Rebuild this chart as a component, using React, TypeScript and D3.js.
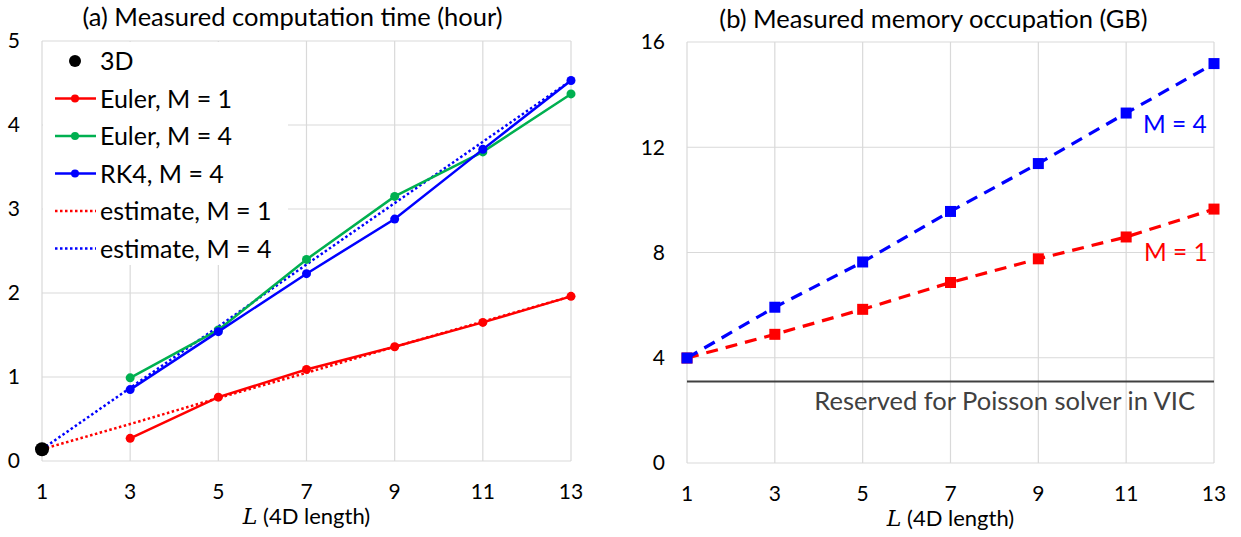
import { useEffect, useRef } from 'react';
import * as d3 from 'd3';

// 4D length L
const lengths = [1, 3, 5, 7, 9, 11, 13];
const measuredL = [3, 5, 7, 9, 11, 13];

// (a) computation time, hours
const time3D = 0.14;
const eulerM1 = [0.27, 0.76, 1.09, 1.36, 1.65, 1.96];
const eulerM4 = [0.99, 1.56, 2.4, 3.15, 3.68, 4.37];
const rk4M4 = [0.85, 1.54, 2.23, 2.88, 3.71, 4.53];
const estimateM1 = [0.14, 0.44, 0.75, 1.05, 1.36, 1.66, 1.96];
const estimateM4 = [0.14, 0.87, 1.6, 2.34, 3.07, 3.8, 4.53];
const timeTicks = [0, 1, 2, 3, 4, 5];

// (b) memory occupation, GB
const memM4 = [3.99, 5.92, 7.64, 9.56, 11.38, 13.3, 15.18];
const memM1 = [3.99, 4.89, 5.84, 6.86, 7.76, 8.59, 9.65];
const poissonReserved = 3.1;
const memTicks = [0, 4, 8, 12, 16];

const RED = '#ff0000';
const GREEN = '#00b050';
const BLUE = '#0000ff';
const GRID = '#d9d9d9';
const FONT = 'Lato, "Open Sans", sans-serif';

type Pt = [number, number];

export default function App() {
  const ref = useRef<SVGSVGElement>(null);

  useEffect(() => {
    if (!ref.current) return;
    document.body.style.margin = '0';
    const svg = d3.select(ref.current);
    svg.selectAll('*').remove();

    svg.append('rect').attr('width', 1241).attr('height', 537).attr('fill', '#fff');

    const drawFrame = (
      g: d3.Selection<SVGGElement, unknown, null, undefined>,
      x: d3.ScaleLinear<number, number>,
      y: d3.ScaleLinear<number, number>,
      yTicks: number[],
      title: string,
      titleY: number
    ) => {
      const [x0, x1] = x.range();
      const [y0, y1] = y.range();

      // grid
      g.append('g')
        .selectAll('line')
        .data(yTicks)
        .enter().append('line')
        .attr('x1', x0).attr('x2', x1)
        .attr('y1', d => y(d)).attr('y2', d => y(d))
        .attr('stroke', GRID).attr('stroke-width', 1.2);
      g.append('g')
        .selectAll('line')
        .data(lengths)
        .enter().append('line')
        .attr('x1', d => x(d)).attr('x2', d => x(d))
        .attr('y1', y0).attr('y2', y1)
        .attr('stroke', GRID).attr('stroke-width', 1.2);

      // tick labels
      g.append('g')
        .selectAll('text')
        .data(yTicks)
        .enter().append('text')
        .attr('x', x0 - 22)
        .attr('y', d => y(d))
        .attr('dy', '0.35em')
        .attr('text-anchor', 'end')
        .attr('font-size', 21)
        .attr('font-family', FONT)
        .attr('fill', '#000')
        .text(d => d);
      g.append('g')
        .selectAll('text')
        .data(lengths)
        .enter().append('text')
        .attr('x', d => x(d))
        .attr('y', y0 + 38)
        .attr('text-anchor', 'middle')
        .attr('font-size', 21)
        .attr('font-family', FONT)
        .attr('fill', '#000')
        .text(d => d);

      // axis title
      const xt = g.append('text')
        .attr('x', (x0 + x1) / 2)
        .attr('y', y0 + 63)
        .attr('text-anchor', 'middle')
        .attr('font-size', 22)
        .attr('font-family', FONT)
        .attr('fill', '#000');
      xt.append('tspan')
        .attr('font-family', '"DejaVu Serif", serif')
        .attr('font-style', 'italic')
        .text('L');
      xt.append('tspan').text(' (4D length)');

      g.append('text')
        .attr('x', (x0 + x1) / 2 + (x0 < 300 ? -14 : -17))
        .attr('y', titleY)
        .attr('text-anchor', 'middle')
        .attr('font-size', 25.5)
        .attr('font-family', FONT)
        .attr('fill', '#000')
        .text(title);
    };

    // ---------- (a) ----------
    const xa = d3.scaleLinear().domain([1, 13]).range([42, 571]);
    const ya = d3.scaleLinear().domain([0, 5]).range([461, 41]);
    const ga = svg.append('g');
    drawFrame(ga, xa, ya, timeTicks, '(a) Measured computation time (hour)', 26);

    const line = d3.line<Pt>().x(d => xa(d[0])).y(d => ya(d[1]));

    // legend background hides grid behind it
    ga.append('rect')
      .attr('x', 43).attr('y', 42).attr('width', 245).attr('height', 223)
      .attr('fill', '#fff');

    const solid = [
      { vals: eulerM1, color: RED },
      { vals: eulerM4, color: GREEN },
      { vals: rk4M4, color: BLUE },
    ];
    const dotted = [
      { vals: estimateM1, color: RED },
      { vals: estimateM4, color: BLUE },
    ];

    dotted.forEach(s => {
      const pts: Pt[] = lengths.map((l, i) => [l, s.vals[i]]);
      ga.append('path')
        .attr('d', line(pts))
        .attr('fill', 'none')
        .attr('stroke', s.color)
        .attr('stroke-width', 2.5)
        .attr('stroke-dasharray', '2.5,2.5');
    });

    solid.forEach(s => {
      const pts: Pt[] = measuredL.map((l, i) => [l, s.vals[i]]);
      ga.append('path')
        .attr('d', line(pts))
        .attr('fill', 'none')
        .attr('stroke', s.color)
        .attr('stroke-width', 2.5);
      ga.selectAll(null)
        .data(pts)
        .enter().append('circle')
        .attr('cx', d => xa(d[0]))
        .attr('cy', d => ya(d[1]))
        .attr('r', 4.5)
        .attr('fill', s.color);
    });

    ga.append('circle')
      .attr('cx', xa(1)).attr('cy', ya(time3D)).attr('r', 7).attr('fill', '#000');

    // legend
    const legendItems = [
      { label: '3D', color: '#000', kind: 'dot' },
      { label: 'Euler, M = 1', color: RED, kind: 'line' },
      { label: 'Euler, M = 4', color: GREEN, kind: 'line' },
      { label: 'RK4, M = 4', color: BLUE, kind: 'line' },
      { label: 'estimate, M = 1', color: RED, kind: 'dotted' },
      { label: 'estimate, M = 4', color: BLUE, kind: 'dotted' },
    ];
    legendItems.forEach((it, i) => {
      const cy = 61 + i * 37.5;
      if (it.kind === 'dot') {
        ga.append('circle').attr('cx', 75).attr('cy', cy).attr('r', 6).attr('fill', it.color);
      } else {
        ga.append('line')
          .attr('x1', 55).attr('x2', 96).attr('y1', cy).attr('y2', cy)
          .attr('stroke', it.color).attr('stroke-width', 2.5)
          .attr('stroke-dasharray', it.kind === 'dotted' ? '2.5,2.5' : null);
        if (it.kind === 'line') {
          ga.append('circle').attr('cx', 75).attr('cy', cy).attr('r', 4).attr('fill', it.color);
        }
      }
      ga.append('text')
        .attr('x', 100).attr('y', cy).attr('dy', '0.36em')
        .attr('font-size', 25).attr('font-family', FONT).attr('fill', '#000')
        .text(it.label);
    });

    // ---------- (b) ----------
    const xb = d3.scaleLinear().domain([1, 13]).range([687, 1214]);
    const yb = d3.scaleLinear().domain([0, 16]).range([463, 42]);
    const gb = svg.append('g');
    drawFrame(gb, xb, yb, memTicks, '(b) Measured memory occupation (GB)', 28);

    gb.append('line')
      .attr('x1', xb(1)).attr('x2', xb(13))
      .attr('y1', yb(poissonReserved)).attr('y2', yb(poissonReserved))
      .attr('stroke', '#404040').attr('stroke-width', 2);
    gb.append('text')
      .attr('x', 1195).attr('y', 410)
      .attr('text-anchor', 'end')
      .attr('font-size', 25.5).attr('font-family', FONT).attr('fill', '#404040')
      .text('Reserved for Poisson solver in VIC');

    const lineB = d3.line<Pt>().x(d => xb(d[0])).y(d => yb(d[1]));
    [
      { vals: memM1, color: RED },
      { vals: memM4, color: BLUE },
    ].forEach(s => {
      const pts: Pt[] = lengths.map((l, i) => [l, s.vals[i]]);
      gb.append('path')
        .attr('d', lineB(pts))
        .attr('fill', 'none')
        .attr('stroke', s.color)
        .attr('stroke-width', 3.2)
        .attr('stroke-dasharray', '12,8');
      gb.selectAll(null)
        .data(pts)
        .enter().append('rect')
        .attr('x', d => xb(d[0]) - 5.5)
        .attr('y', d => yb(d[1]) - 5.5)
        .attr('width', 11).attr('height', 11)
        .attr('fill', s.color);
    });

    gb.append('text')
      .attr('x', 1143).attr('y', 133)
      .attr('font-size', 24.5).attr('font-family', FONT).attr('fill', BLUE)
      .text('M = 4');
    gb.append('text')
      .attr('x', 1144).attr('y', 261)
      .attr('font-size', 24.5).attr('font-family', FONT).attr('fill', RED)
      .text('M = 1');
  }, []);

  return <svg ref={ref} width={1241} height={537} style={{ display: 'block' }} />;
}
